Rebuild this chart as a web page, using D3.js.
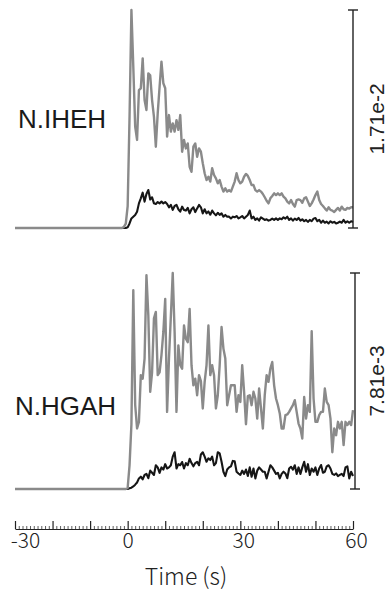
<!DOCTYPE html>
<html>
<head>
<meta charset="utf-8">
<script src="https://cdn.jsdelivr.net/npm/d3@7"></script>
<style>
  body { margin: 0; background: #fff; }
  svg { display: block; }
</style>
</head>
<body>
<svg id="chart" width="390" height="595"></svg>
<script>
// sample times (s); one flat point at -30, then 0.5 s samples around onset
const time = [
  -30, -1.5, -1, -0.5,
  0, 0.5, 1, 1.5, 2, 2.5, 3, 3.5, 4, 4.5, 5, 5.5, 6, 6.5, 7, 7.5, 8, 8.5, 9, 9.5,
  10, 10.5, 11, 11.5, 12, 12.5, 13, 13.5, 14, 14.5, 15, 15.5, 16, 16.5, 17, 17.5, 18, 18.5, 19, 19.5,
  20, 20.5, 21, 21.5, 22, 22.5, 23, 23.5, 24, 24.5, 25, 25.5, 26, 26.5, 27, 27.5, 28, 28.5, 29, 29.5,
  30, 30.5, 31, 31.5, 32, 32.5, 33, 33.5, 34, 34.5, 35, 35.5, 36, 36.5, 37, 37.5, 38, 38.5, 39, 39.5,
  40, 40.5, 41, 41.5, 42, 42.5, 43, 43.5, 44, 44.5, 45, 45.5, 46, 46.5, 47, 47.5, 48, 48.5, 49, 49.5,
  50, 50.5, 51, 51.5, 52, 52.5, 53, 53.5, 54, 54.5, 55, 55.5, 56, 56.5, 57, 57.5, 58, 58.5, 59, 59.5,
  60
];

// traces, as a fraction of each panel's scale bar
const ihehGrey = [
  0, 0, 0.005, 0.02,
  0.1, 0.51, 1.0, 0.74, 0.465, 0.404, 0.633, 0.641, 0.778, 0.587, 0.541, 0.709, 0.70, 0.587, 0.51, 0.373, 0.526, 0.648, 0.763, 0.664,
  0.641, 0.419, 0.518, 0.442, 0.48, 0.442, 0.495, 0.45, 0.518, 0.35, 0.404, 0.365, 0.388, 0.281, 0.258, 0.373, 0.388, 0.327, 0.365, 0.35,
  0.297, 0.251, 0.22, 0.235, 0.213, 0.274, 0.243, 0.228, 0.205, 0.22, 0.19, 0.167, 0.182, 0.167, 0.174, 0.167, 0.19, 0.213, 0.251, 0.22,
  0.205, 0.213, 0.235, 0.248, 0.239, 0.22, 0.197, 0.197, 0.174, 0.167, 0.174, 0.167, 0.156, 0.141, 0.125, 0.113, 0.136, 0.147, 0.159, 0.151,
  0.159, 0.151, 0.159, 0.144, 0.136, 0.121, 0.113, 0.128, 0.11, 0.098, 0.128, 0.131, 0.128, 0.116, 0.136, 0.141, 0.121, 0.101, 0.113, 0.131,
  0.151, 0.167, 0.128, 0.11, 0.101, 0.09, 0.08, 0.095, 0.083, 0.08, 0.073, 0.083, 0.092, 0.08, 0.098, 0.086, 0.083, 0.092, 0.089, 0.095,
  0.095
];
const ihehBlack = [
  0, 0, 0, 0,
  0.003, 0.021, 0.044, 0.052, 0.06, 0.075, 0.113, 0.136, 0.162, 0.121, 0.156, 0.174, 0.131, 0.141, 0.113, 0.11, 0.119, 0.113, 0.121, 0.113,
  0.119, 0.11, 0.095, 0.106, 0.083, 0.101, 0.106, 0.086, 0.075, 0.098, 0.083, 0.08, 0.092, 0.067, 0.086, 0.095, 0.073, 0.09, 0.106, 0.095,
  0.067, 0.086, 0.067, 0.076, 0.061, 0.08, 0.067, 0.058, 0.07, 0.06, 0.067, 0.052, 0.06, 0.052, 0.052, 0.044, 0.052, 0.049, 0.055, 0.044,
  0.049, 0.055, 0.044, 0.052, 0.06, 0.08, 0.044, 0.052, 0.037, 0.044, 0.034, 0.049, 0.043, 0.037, 0.04, 0.034, 0.037, 0.043, 0.037, 0.044,
  0.037, 0.044, 0.04, 0.049, 0.043, 0.052, 0.037, 0.044, 0.034, 0.043, 0.037, 0.046, 0.034, 0.04, 0.031, 0.037, 0.028, 0.037, 0.031, 0.043,
  0.046, 0.031, 0.037, 0.024, 0.034, 0.024, 0.029, 0.021, 0.031, 0.024, 0.028, 0.021, 0.024, 0.029, 0.024, 0.037, 0.024, 0.031, 0.024, 0.031,
  0.028
];
const hgahGrey = [
  0, 0, 0, 0,
  0.005, 0.11, 0.3, 0.92, 0.39, 0.28, 0.31, 0.527, 0.511, 0.604, 0.99, 0.804, 0.45, 0.54, 0.79, 0.82, 0.527, 0.54, 0.62, 0.727,
  0.88, 0.357, 0.604, 0.80, 1.0, 0.727, 0.357, 0.665, 0.573, 0.557, 0.757, 0.696, 0.68, 0.834, 0.573, 0.48, 0.511, 0.434, 0.527, 0.5,
  0.373, 0.496, 0.573, 0.757, 0.527, 0.573, 0.527, 0.373, 0.434, 0.573, 0.75, 0.65, 0.604, 0.388, 0.434, 0.48, 0.48, 0.48, 0.357, 0.434,
  0.403, 0.573, 0.45, 0.3, 0.43, 0.434, 0.388, 0.45, 0.419, 0.326, 0.465, 0.373, 0.28, 0.434, 0.527, 0.496, 0.557, 0.588, 0.48, 0.419,
  0.388, 0.35, 0.28, 0.28, 0.342, 0.345, 0.357, 0.373, 0.388, 0.411, 0.357, 0.303, 0.28, 0.234, 0.426, 0.326, 0.388, 0.357, 0.73, 0.419,
  0.311, 0.311, 0.342, 0.357, 0.357, 0.465, 0.403, 0.388, 0.326, 0.17, 0.28, 0.249, 0.311, 0.28, 0.311, 0.203, 0.311, 0.296, 0.311, 0.296,
  0.365
];
const hgahBlack = [
  0, 0, 0, 0,
  0, 0.003, 0.006, 0.012, 0.02, 0.03, 0.049, 0.057, 0.045, 0.065, 0.07, 0.05, 0.085, 0.075, 0.065, 0.11, 0.1, 0.075, 0.1, 0.09,
  0.115, 0.095, 0.1, 0.11, 0.15, 0.17, 0.095, 0.115, 0.11, 0.125, 0.095, 0.12, 0.11, 0.14, 0.12, 0.105, 0.12, 0.126, 0.11, 0.16,
  0.17, 0.15, 0.126, 0.142, 0.134, 0.15, 0.11, 0.12, 0.17, 0.165, 0.126, 0.08, 0.06, 0.09, 0.1, 0.105, 0.13, 0.128, 0.08, 0.072,
  0.065, 0.085, 0.07, 0.09, 0.06, 0.1, 0.057, 0.095, 0.049, 0.085, 0.1, 0.09, 0.08, 0.08, 0.049, 0.08, 0.11, 0.1, 0.085, 0.07,
  0.075, 0.049, 0.07, 0.08, 0.072, 0.05, 0.095, 0.103, 0.09, 0.11, 0.07, 0.1, 0.07, 0.1, 0.126, 0.08, 0.115, 0.065, 0.095, 0.08,
  0.1, 0.065, 0.095, 0.111, 0.075, 0.08, 0.105, 0.11, 0.095, 0.07, 0.065, 0.072, 0.06, 0.065, 0.07, 0.06, 0.1, 0.105, 0.049, 0.08,
  0.06
];

const stationNames = ['N.IHEH', 'N.HGAH'];
const scaleLabels = ['1.71e-2', '7.81e-3'];
const majorTicks = [-30, -20, -10, 0, 10, 20, 30, 40, 50, 60];
const labelledTicks = [-30, 0, 30, 60];

const svg = d3.select('#chart');
const textFont = '"Liberation Sans", Arial, sans-serif';
const axisFont = '"Noto Sans CJK JP", "Noto Sans", sans-serif';

const x = d3.scaleLinear().domain([-30, 60]).range([15, 353]);

const panels = [
  { name: stationNames[0], scale: scaleLabels[0], grey: ihehGrey, black: ihehBlack,
    y0: 228, y1: 10, barX: 353, nameX: 18, nameY: 128, scaleX: 384 },
  { name: stationNames[1], scale: scaleLabels[1], grey: hgahGrey, black: hgahBlack,
    y0: 489, y1: 273, barX: 355, nameX: 15, nameY: 415, scaleX: 384 }
];

panels.forEach(p => {
  const y = d3.scaleLinear().domain([0, 1]).range([p.y0, p.y1]);
  const line = d3.line()
    .x((d, i) => x(time[i]))
    .y(d => y(d));

  const g = svg.append('g');

  g.append('path')
    .datum(p.black)
    .attr('d', line)
    .attr('fill', 'none')
    .attr('stroke', '#161616')
    .attr('stroke-width', 2.1)
    .attr('stroke-linejoin', 'round');

  // grey drawn last, slightly wider so it hides the black trace on the flat pre-onset baseline
  g.append('path')
    .datum(p.grey)
    .attr('d', line)
    .attr('fill', 'none')
    .attr('stroke', '#8a8a8a')
    .attr('stroke-width', 2.4)
    .attr('stroke-linejoin', 'round');

  // scale bar
  const bar = g.append('g').attr('stroke', '#222').attr('stroke-width', 1.4);
  bar.append('line')
    .attr('x1', p.barX).attr('x2', p.barX)
    .attr('y1', y(0)).attr('y2', y(1));
  [0, 1].forEach(v => {
    bar.append('line')
      .attr('x1', p.barX - 5).attr('x2', p.barX + 5)
      .attr('y1', y(v)).attr('y2', y(v));
  });

  g.append('text')
    .attr('transform', `translate(${p.scaleX},${(y(0) + y(1)) / 2}) rotate(-90)`)
    .attr('text-anchor', 'middle')
    .style('font-family', textFont)
    .style('font-size', '21px')
    .attr('fill', '#222')
    .text(p.scale);

  g.append('text')
    .attr('x', p.nameX)
    .attr('y', p.nameY)
    .style('font-family', textFont)
    .style('font-size', '26px')
    .attr('fill', '#1a1a1a')
    .text(p.name);
});

// time axis: major ticks every 10 s, minor every 1 s, ticks point up
const axisY = 529;
const minorTicks = d3.range(-30, 61, 1).filter(d => d % 10 !== 0);

svg.append('g')
  .attr('transform', `translate(0,${axisY})`)
  .call(d3.axisBottom(x).tickValues(minorTicks).tickSize(-3).tickFormat(''))
  .call(a => a.select('.domain').remove())
  .selectAll('line').attr('stroke', '#333').attr('stroke-width', 0.8);

const xAxis = svg.append('g')
  .attr('transform', `translate(0,${axisY})`)
  .call(d3.axisBottom(x)
    .tickValues(majorTicks)
    .tickSizeInner(-8)
    .tickSizeOuter(0)
    .tickPadding(4)
    .tickFormat(d => labelledTicks.includes(d) ? String(d) : ''));

xAxis.select('.domain').attr('stroke', '#222').attr('stroke-width', 1.2);
xAxis.selectAll('.tick line').attr('stroke', '#222').attr('stroke-width', 1.2);
xAxis.selectAll('.tick text')
  .attr('fill', '#222')
  .attr('dx', d => d === -30 ? 10 : (d === 0 ? 0 : 3))
  .style('font-family', axisFont)
  .style('font-weight', 300)
  .style('font-size', '21px');

svg.append('text')
  .attr('x', 186)
  .attr('y', 585)
  .attr('text-anchor', 'middle')
  .style('font-family', axisFont)
  .style('font-weight', 300)
  .style('font-size', '23px')
  .attr('fill', '#222')
  .text('Time (s)');
</script>
</body>
</html>
